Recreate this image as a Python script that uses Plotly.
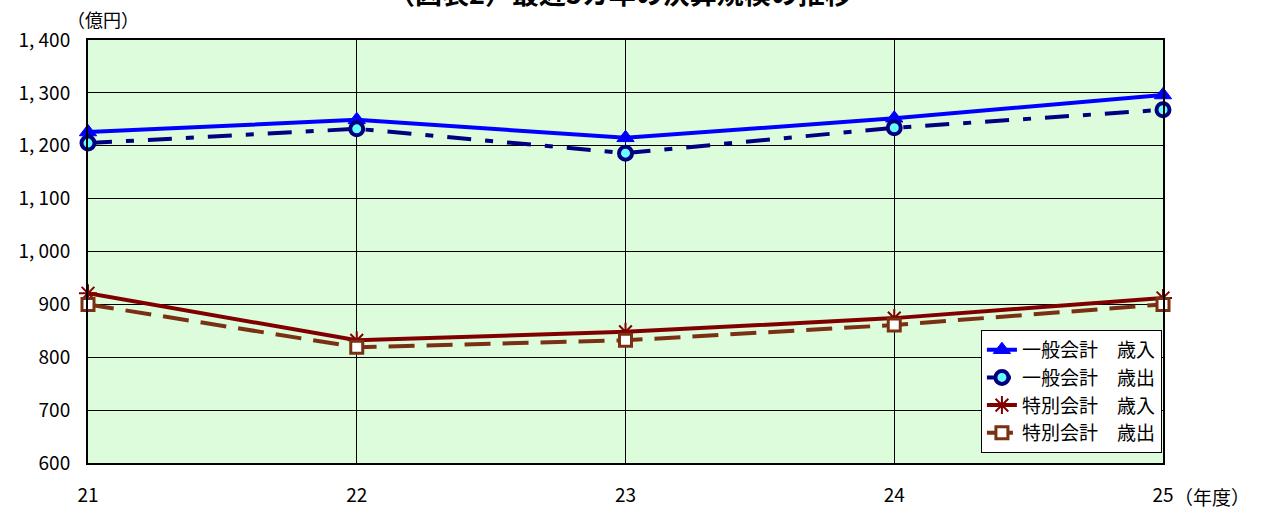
import plotly.graph_objects as go

# 年度
years = [21, 22, 23, 24, 25]
year_labels = ["21", "22", "23", "24", "25"]

# 決算額（億円）
general_revenue = [1226, 1249, 1215, 1252, 1296]
general_expenditure = [1205, 1232, 1186, 1234, 1268]
special_revenue = [921, 832, 848, 874, 912]
special_expenditure = [900, 819, 832, 861, 900]

y_ticks = [600, 700, 800, 900, 1000, 1100, 1200, 1300, 1400]
y_tick_labels = ["600", "700", "800", "900", "1, 000", "1, 100", "1, 200", "1, 300", "1, 400"]

FONT = "Noto Sans CJK JP"

fig = go.Figure()

fig.add_trace(go.Scatter(
    x=years, y=general_revenue, name="一般会計　歳入",
    mode="lines+markers", cliponaxis=False,
    line=dict(color="#0000FF", width=4),
    marker=dict(symbol="triangle-up", size=15, color="#0000FF",
                line=dict(color="#0000FF", width=1)),
))
fig.add_trace(go.Scatter(
    x=years, y=general_expenditure, name="一般会計　歳出",
    mode="lines+markers", cliponaxis=False,
    line=dict(color="#000080", width=4, dash="24px,14px,8px,14px"),
    marker=dict(symbol="circle", size=13, color="#66FFFF",
                line=dict(color="#000080", width=4)),
))
fig.add_trace(go.Scatter(
    x=years, y=special_revenue, name="特別会計　歳入",
    mode="lines+markers", cliponaxis=False,
    line=dict(color="#800000", width=4),
    marker=dict(symbol="asterisk-open", size=15, color="#800000",
                line=dict(color="#800000", width=2)),
))
fig.add_trace(go.Scatter(
    x=years, y=special_expenditure, name="特別会計　歳出",
    mode="lines+markers", cliponaxis=False,
    line=dict(color="#7A3013", width=4, dash="26px,12px"),
    marker=dict(symbol="square", size=12, color="#FFFFFF",
                line=dict(color="#7A3013", width=3)),
))

fig.update_layout(
    width=1267, height=513,
    margin=dict(l=88, r=104, t=40, b=50),
    paper_bgcolor="#FFFFFF",
    plot_bgcolor="#DDFCDC",
    font=dict(family=FONT, size=18, color="#000000"),
    showlegend=True,
    legend=dict(
        x=0.999, y=0.024, xanchor="right", yanchor="bottom",
        bgcolor="#FFFFFF", bordercolor="#000000", borderwidth=1,
        font=dict(family=FONT, size=19, color="#000000"),
        tracegroupgap=0,
    ),
    xaxis=dict(
        range=[21, 25], tickmode="array", tickvals=years, ticktext=year_labels,
        showgrid=True, gridcolor="#000000", gridwidth=1,
        showline=True, linecolor="#000000", linewidth=2, mirror=True,
        zeroline=False, ticks="", ticklen=0, ticklabelstandoff=14,
        tickfont=dict(family=FONT, size=19), automargin=False,
    ),
    yaxis=dict(
        range=[600, 1400], tickmode="array", tickvals=y_ticks, ticktext=y_tick_labels,
        showgrid=True, gridcolor="#000000", gridwidth=1,
        showline=True, linecolor="#000000", linewidth=2, mirror=True,
        zeroline=False, ticks="", ticklen=0, ticklabelstandoff=12,
        tickfont=dict(family=FONT, size=19), automargin=False,
    ),
    annotations=[
        dict(text="<b>（図表2）最近5カ年の決算規模の推移</b>", xref="paper", yref="paper",
             x=0.495, y=1.113, xanchor="center", yanchor="middle", showarrow=False,
             font=dict(family=FONT, size=27, color="#000000")),
        dict(text="（億円）", xref="paper", yref="paper",
             x=-0.021, y=1.05, xanchor="left", yanchor="middle", showarrow=False,
             font=dict(family=FONT, size=18, color="#000000")),
        dict(text="（年度）", xref="paper", yref="paper",
             x=1.008, y=-0.08, xanchor="left", yanchor="middle", showarrow=False,
             font=dict(family=FONT, size=19, color="#000000")),
    ],
)

fig.write_html("out.html")
